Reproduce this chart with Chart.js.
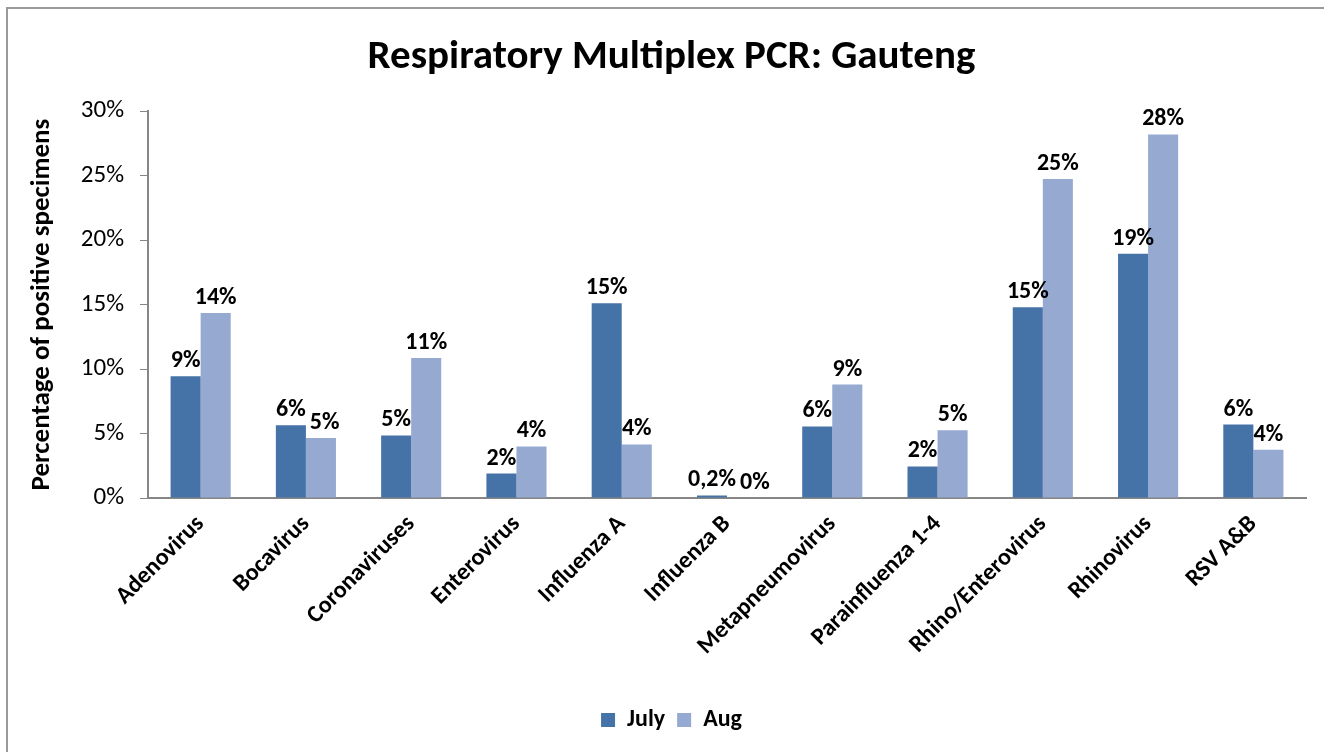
<!DOCTYPE html>
<html>
<head>
<meta charset="utf-8">
<script src="https://cdn.jsdelivr.net/npm/chart.js@4"></script>
<style>
  html, body { margin: 0; padding: 0; background: #fff; overflow: hidden; }
  #wrap { position: absolute; left: 0; top: 0; width: 1324px; height: 752px; }
</style>
</head>
<body>
<div id="wrap"><canvas id="pcrChart"></canvas></div>
<script>
const categories = ["Adenovirus", "Bocavirus", "Coronaviruses", "Enterovirus", "Influenza A",
  "Influenza B", "Metapneumovirus", "Parainfluenza 1-4", "Rhino/Enterovirus", "Rhinovirus", "RSV A&B"];
const julyValues = [9.45, 5.65, 4.85, 1.9, 15.1, 0.2, 5.55, 2.45, 14.8, 18.95, 5.7];
const augValues = [14.35, 4.65, 10.85, 4.0, 4.15, 0, 8.8, 5.25, 24.75, 28.2, 3.75];
const yTicks = [0, 5, 10, 15, 20, 25, 30];

const fontFamily = "Carlito, Lato, 'Open Sans', sans-serif";

// percent label like Excel: whole numbers, one decimal (comma) for small values
function pctLabel(v) {
  if (v > 0 && v < 1) return v.toFixed(1).replace(".", ",") + "%";
  return Math.round(v) + "%";
}

// gray chart frame (left and top edge only, the rest is cut off)
const chartFrame = {
  id: "chartFrame",
  beforeDraw(chart) {
    const ctx = chart.ctx;
    ctx.save();
    ctx.strokeStyle = "#9a9a9a";
    ctx.lineWidth = 2;
    ctx.beginPath();
    ctx.moveTo(7, chart.height);
    ctx.lineTo(7, 8);
    ctx.lineTo(chart.width, 8);
    ctx.stroke();
    ctx.restore();
  }
};

// draws the value above every bar, nudging the second label right when the two collide
const barLabels = {
  id: "barLabels",
  afterDatasetsDraw(chart) {
    const ctx = chart.ctx;
    ctx.save();
    ctx.font = "bold 24px " + fontFamily;
    ctx.fillStyle = "#000";
    ctx.textAlign = "center";
    ctx.textBaseline = "bottom";
    const m0 = chart.getDatasetMeta(0).data;
    const m1 = chart.getDatasetMeta(1).data;
    categories.forEach((c, j) => {
      const t0 = pctLabel(julyValues[j]);
      const t1 = pctLabel(augValues[j]);
      const w0 = ctx.measureText(t0).width;
      const w1 = ctx.measureText(t1).width;
      const x0 = m0[j].x, y0 = m0[j].y - 3;
      let x1 = m1[j].x;
      const y1 = m1[j].y - 3;
      if (Math.abs(y0 - y1) < 20) {
        const overlap = (x0 + w0 / 2 + 4) - (x1 - w1 / 2);
        if (overlap > 0) x1 += overlap;
      }
      ctx.fillText(t0, x0, y0);
      ctx.fillText(t1, x1, y1);
    });
    ctx.restore();
  }
};

const ctx = document.getElementById("pcrChart").getContext("2d");

new Chart(ctx, {
  type: "bar",
  data: {
    labels: categories,
    datasets: [
      {
        label: "July",
        data: julyValues,
        backgroundColor: "#4673a7",
        categoryPercentage: 0.571,
        barPercentage: 1
      },
      {
        label: "Aug",
        data: augValues,
        backgroundColor: "#95a9d1",
        categoryPercentage: 0.571,
        barPercentage: 1
      }
    ]
  },
  options: {
    responsive: true,
    maintainAspectRatio: false,
    animation: false,
    layout: { padding: { left: 37, right: 18, top: 0, bottom: 10 } },
    plugins: {
      title: {
        display: true,
        text: "Respiratory Multiplex PCR: Gauteng",
        color: "#000",
        font: { family: fontFamily, size: 41, weight: "bold" },
        padding: { top: 33, bottom: 29 }
      },
      legend: {
        position: "bottom",
        labels: {
          color: "#000",
          boxWidth: 14,
          boxHeight: 14,
          padding: 12,
          font: { family: fontFamily, size: 24, weight: "bold" }
        }
      },
      tooltip: { enabled: false }
    },
    scales: {
      x: {
        grid: { display: false },
        border: { display: true, color: "#868686", width: 2 },
        ticks: {
          color: "#000",
          maxRotation: 45,
          minRotation: 45,
          padding: 4,
          font: { family: fontFamily, size: 24, weight: "bold" }
        },
        afterFit(scale) { scale.height = 198; }
      },
      y: {
        min: 0,
        max: 30,
        afterBuildTicks(scale) { scale.ticks = yTicks.map(v => ({ value: v })); },
        grid: { drawOnChartArea: false, drawTicks: true, tickLength: 8, color: "#868686" },
        border: { display: true, color: "#868686", width: 2 },
        ticks: {
          color: "#000",
          padding: 16,
          font: { family: fontFamily, size: 25 },
          callback: v => v + "%"
        },
        title: {
          display: true,
          text: "Percentage of positive specimens",
          color: "#000",
          font: { family: fontFamily, size: 27, weight: "bold", lineHeight: 0.4 },
          padding: { top: 0, bottom: 0 }
        },
        afterFit(scale) { scale.width = 111; }
      }
    }
  },
  plugins: [chartFrame, barLabels]
});
</script>
</body>
</html>
